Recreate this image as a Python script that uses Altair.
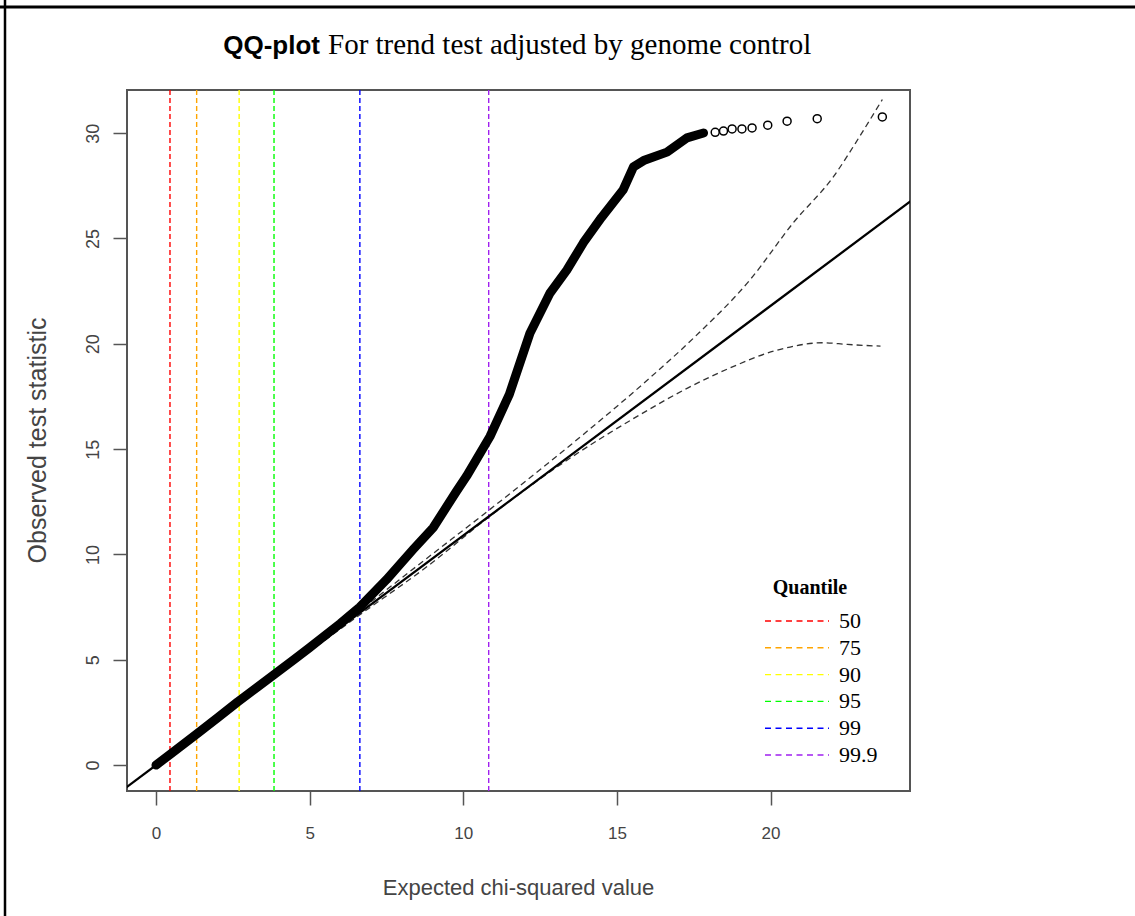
import altair as alt
import pandas as pd

# ---- data ----
# dense part of the observed QQ points (expected chi-square, observed statistic)
dense_x = [0.0, 0.46, 1.32, 2.0, 2.66, 3.3, 3.83, 4.5, 5.0, 5.5, 6.0, 6.63, 7.5, 8.37, 9.02,
           9.78, 10.11, 10.87, 11.5, 12.17, 12.82, 13.37, 13.91, 14.5, 15.2, 15.54, 15.87,
           16.63, 17.28, 17.82]
dense_y = [0.0, 0.51, 1.47, 2.24, 3.0, 3.7, 4.28, 5.02, 5.58, 6.15, 6.72, 7.5, 8.8, 10.24, 11.27,
           13.0, 13.72, 15.6, 17.6, 20.5, 22.4, 23.5, 24.8, 26.0, 27.3, 28.4, 28.7,
           29.1, 29.78, 30.01]
# individually visible points in the upper tail
tail_x = [18.2, 18.47, 18.75, 19.07, 19.4, 19.91, 20.54, 21.52, 23.64]
tail_y = [30.04, 30.1, 30.2, 30.2, 30.25, 30.38, 30.57, 30.69, 30.77]

# expected line (slope = genomic control)
ref_x = [-0.97, 24.56]
ref_y = [-1.06, 26.77]

# confidence envelope (dashed)
upper_x = [0.0, 3.0, 6.6, 8.8, 10.87, 13.91, 16.08, 17.5, 19.34, 20.75, 22.05, 22.9, 23.64]
upper_y = [0.0, 3.3, 7.3, 9.8, 12.14, 15.7, 18.39, 20.28, 23.05, 25.76, 27.94, 29.84, 31.6]
lower_x = [0.0, 3.0, 6.6, 8.8, 10.87, 13.2, 15.76, 17.3, 18.69, 20.1, 21.73, 22.5, 23.58]
lower_y = [0.0, 3.25, 7.1, 9.4, 11.82, 14.3, 16.64, 17.9, 18.86, 19.65, 20.05, 19.97, 19.89]

# chi-square (1 df) quantile lines
quant_labels = ["50", "75", "90", "95", "99", "99.9"]
quant_x = [0.455, 1.323, 2.706, 3.841, 6.635, 10.828]
quant_colors = ["#FF0000", "#FFA500", "#FFFF00", "#00FF00", "#0000FF", "#A020F0"]

x_ticks = [0, 5, 10, 15, 20]
y_ticks = [0, 5, 10, 15, 20, 25, 30]

# ---- chart ----
W, H = 783, 701
xs = alt.Scale(domain=[-0.944, 24.54], nice=False, zero=False)
ys = alt.Scale(domain=[-1.23, 32.05], nice=False, zero=False)

xax = alt.Axis(values=x_ticks, title="Expected chi-squared value", grid=False, domain=False,
               tickSize=14, tickWidth=1.5, tickColor="#555555", labelFontSize=17,
               labelColor="#444444", labelFont="Liberation Sans", labelPadding=20,
               titleFont="Liberation Sans", titleFontSize=22, titleFontWeight="normal",
               titleColor="#444444", titleX=391, titleY=96, titleBaseline="middle",
               titleAlign="center")
yax = alt.Axis(values=y_ticks, title="Observed test statistic", grid=False, domain=False,
               tickSize=14, tickWidth=1.5, tickColor="#555555", labelFontSize=18,
               labelColor="#444444", labelFont="Liberation Sans", labelAngle=270,
               labelAlign="center", labelBaseline="middle", labelPadding=20,
               titleFont="Liberation Sans", titleFontSize=25, titleFontWeight="normal",
               titleColor="#444444", titleAngle=270, titleX=-90, titleY=350,
               titleAlign="center", titleBaseline="middle")

qdf = pd.DataFrame({"q": quant_x, "label": quant_labels})
color_scale = alt.Scale(domain=quant_labels, range=quant_colors)

vlines = alt.Chart(qdf).mark_rule(strokeDash=[5, 3], strokeWidth=1.4).encode(
    x=alt.X("q:Q", scale=xs, axis=xax),
    color=alt.Color("label:N", scale=color_scale, legend=None),
)

envelope_df = pd.concat([
    pd.DataFrame({"x": upper_x, "y": upper_y, "band": "upper"}),
    pd.DataFrame({"x": lower_x, "y": lower_y, "band": "lower"}),
])
envelope = alt.Chart(envelope_df).mark_line(
    strokeDash=[6, 4], strokeWidth=1.3, color="#333333", clip=True, interpolate="monotone"
).encode(
    x=alt.X("x:Q", scale=xs, axis=xax),
    y=alt.Y("y:Q", scale=ys, axis=yax),
    detail="band:N",
)

ref_line = alt.Chart(pd.DataFrame({"x": ref_x, "y": ref_y})).mark_line(
    color="black", strokeWidth=2.3, clip=True
).encode(x=alt.X("x:Q", scale=xs, axis=xax), y=alt.Y("y:Q", scale=ys, axis=yax))

dense = alt.Chart(pd.DataFrame({"x": dense_x, "y": dense_y})).mark_line(
    color="black", strokeWidth=9, strokeCap="round", strokeJoin="round"
).encode(x=alt.X("x:Q", scale=xs, axis=xax), y=alt.Y("y:Q", scale=ys, axis=yax), order="x:Q")

tail = alt.Chart(pd.DataFrame({"x": tail_x, "y": tail_y})).mark_point(
    shape="circle", filled=False, size=64, strokeWidth=1.5, color="black", opacity=1
).encode(x=alt.X("x:Q", scale=xs, axis=xax), y=alt.Y("y:Q", scale=ys, axis=yax))

# legend (inside the plot)
ldf = pd.DataFrame({"label": quant_labels})
leg_y = alt.Y("label:N", sort=quant_labels,
              scale=alt.Scale(type="point", range=[531, 665], padding=0), axis=None)
leg_lines = alt.Chart(ldf).mark_rule(strokeDash=[6, 4.5], strokeWidth=1.4).encode(
    y=leg_y, x=alt.value(638), x2=alt.value(702),
    color=alt.Color("label:N", scale=color_scale, legend=None),
)
leg_text = alt.Chart(ldf).mark_text(
    align="left", baseline="middle", font="Liberation Serif", fontSize=22, color="black"
).encode(y=leg_y, x=alt.value(712), text="label:N")
leg_title = alt.Chart(pd.DataFrame({"t": ["Quantile"]})).mark_text(
    align="center", baseline="middle", font="Liberation Serif", fontSize=20,
    fontWeight="bold", color="black"
).encode(x=alt.value(683), y=alt.value(498), text="t:N")

# title (two fonts)
t1 = alt.Chart(pd.DataFrame({"t": ["QQ-plot"]})).mark_text(
    align="right", baseline="alphabetic", font="Liberation Sans", fontSize=26,
    fontWeight="bold", color="black"
).encode(x=alt.value(193), y=alt.value(-36), text="t:N")
t2 = alt.Chart(pd.DataFrame({"t": ["For trend test adjusted by genome control"]})).mark_text(
    align="left", baseline="alphabetic", font="Liberation Serif", fontSize=29,
    color="black"
).encode(x=alt.value(201), y=alt.value(-36), text="t:N")

# outer frame (top and left edges of the surrounding box)
one = pd.DataFrame({"a": [0]})
frame_top = alt.Chart(one).mark_rule(color="black", strokeWidth=3).encode(
    x=alt.value(-127), x2=alt.value(1008), y=alt.value(-83))
frame_left = alt.Chart(one).mark_rule(color="black", strokeWidth=2.5).encode(
    x=alt.value(-122), y=alt.value(-90), y2=alt.value(826))

main = alt.layer(vlines, envelope, ref_line, dense, tail)
legend = alt.layer(leg_lines, leg_text)

chart = alt.layer(main, legend, leg_title, t1, t2, frame_top, frame_left).resolve_scale(
    y="independent"
).properties(
    width=W, height=H,
    autosize=alt.AutoSizeParams(type="none"),
    padding={"left": 127, "top": 90, "right": 225, "bottom": 125},
    background="white",
).configure_view(stroke="#555555", strokeWidth=2)

chart.save("out.html", embed_options={"renderer": "svg", "actions": False})
